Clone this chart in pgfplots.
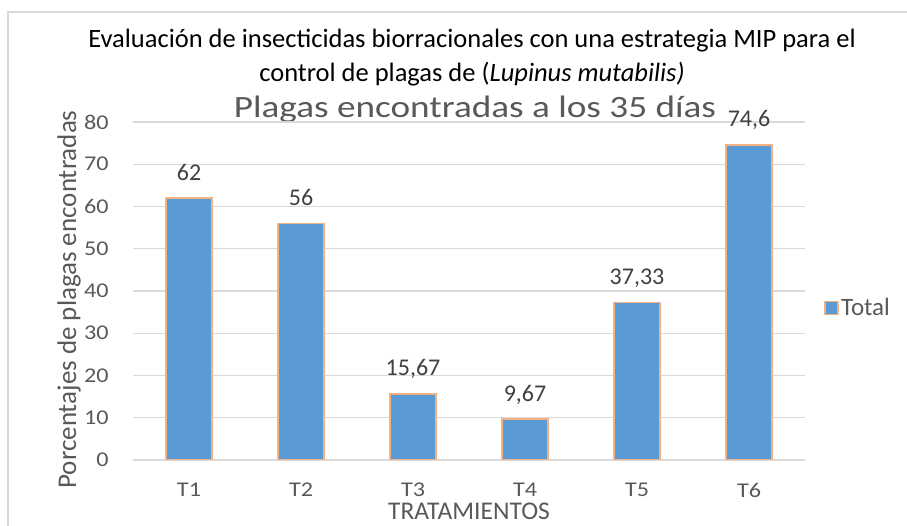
\documentclass[border=0pt]{standalone}
\usepackage{pgfplots}
\pgfplotsset{compat=1.18}
\usepackage{fontspec}
\setmainfont{Carlito}
\definecolor{barblue}{HTML}{5B9BD5}
\definecolor{barorange}{HTML}{F4B183}
\definecolor{gridgray}{HTML}{D9D9D9}
\definecolor{txtgray}{HTML}{595959}
\definecolor{lblgray}{HTML}{404040}
\begin{document}
\begin{tikzpicture}[x=1bp,y=1bp]
\path[use as bounding box] (0,0) rectangle (907,526);
\draw[gridgray, line width=1.5bp] (8,0) -- (8,514) -- (907,514);
\node[anchor=base, inner sep=0, font=\fontsize{26.5bp}{30bp}\selectfont, text=black] at (472,478) {Evaluación de insecticidas biorracionales con una estrategia MIP para el};
\node[anchor=base, inner sep=0, font=\fontsize{26.5bp}{30bp}\selectfont, text=black] at (472,444) {control de plagas de (\textit{Lupinus mutabilis)}};
\node[anchor=base, inner sep=0, xscale=1.2, font=\fontsize{31bp}{35bp}\selectfont, text=txtgray] at (475,408) {Plagas encontradas a los 35 días};
\node[anchor=base, inner sep=0, rotate=90, font=\fontsize{27bp}{31bp}\selectfont, text=txtgray] at (76,226.5) {Porcentajes de plagas encontradas};
\node[anchor=base, inner sep=0, font=\fontsize{25.5bp}{30bp}\selectfont, text=txtgray] at (469,6) {TRATAMIENTOS};
\begin{axis}[
  at={(133bp,66bp)}, anchor=south west,
  scale only axis, width=672bp, height=338bp,
  xmin=-0.5, xmax=5.5, ymin=0, ymax=80,
  xtick={0,1,2,3,4,5}, xticklabels={T1,T2,T3,T4,T5,T6},
  ytick={0,10,...,80},
  axis line style={draw=none},
  major tick length=0pt,
  ymajorgrids, grid style={gridgray, line width=1.4bp},
  /pgf/number format/assume math mode=true,
  ticklabel style={font=\fontsize{21bp}{25bp}\selectfont, text=txtgray, inner sep=0pt, xscale=1.15},
  yticklabel style={anchor=east, xshift=-21bp},
  xticklabel style={anchor=north, yshift=-23bp},
  legend style={at={(1.028,0.45)}, anchor=west, draw=none, fill=none,
    font=\fontsize{25bp}{29bp}\selectfont, text=txtgray, inner sep=0pt,
    nodes={inner sep=2.5bp}},
  legend image code/.code={\draw[#1, line width=1.5bp] (0bp,-6.5bp) rectangle (13bp,6.5bp);},
]
\addplot[ybar, bar width=46bp, fill=barblue, draw=barorange, line width=1.5bp,
  point meta=explicit symbolic,
  nodes near coords,
  every node near coord/.style={anchor=base, inner sep=0pt, yshift=18bp, font=\fontsize{24bp}{28bp}\selectfont, text=lblgray}]
  coordinates {(0,62) [62] (1,56) [56] (2,15.67) [{15,67}] (3,9.67) [{9,67}] (4,37.33) [{37,33}] (5,74.6) [{74,6}]};
\addlegendentry{Total}
\end{axis}
\end{tikzpicture}
\end{document}
